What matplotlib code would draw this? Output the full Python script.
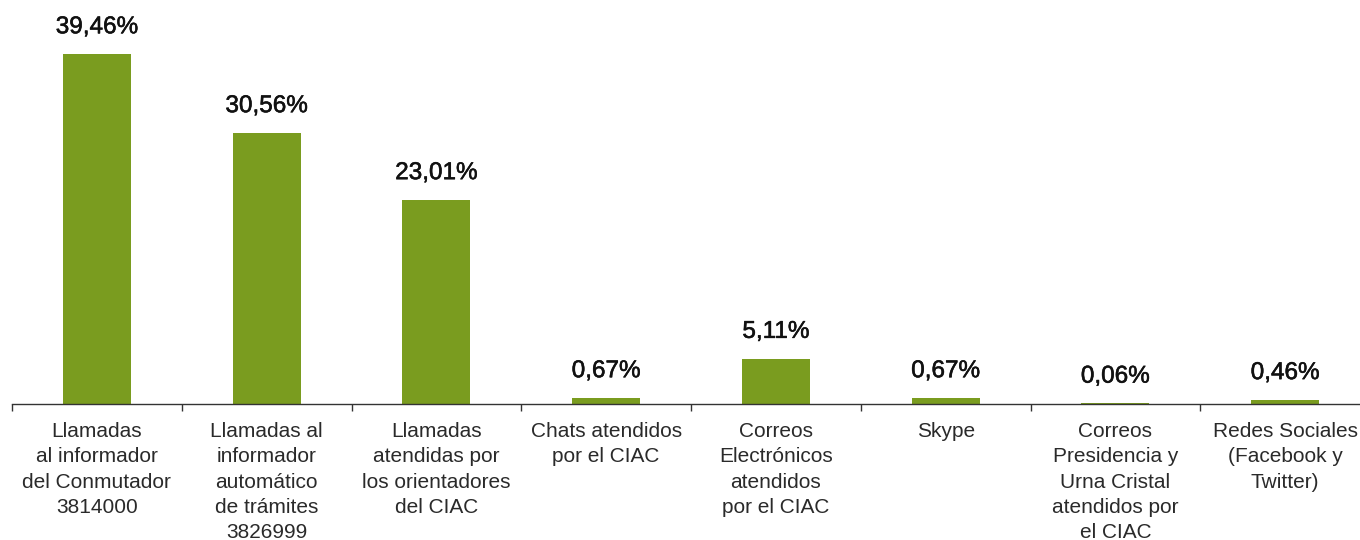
import matplotlib
matplotlib.use("Agg")
import matplotlib.pyplot as plt
import matplotlib.patheffects as pe
import numpy as np

categories = [
    "Llamadas\nal informador\ndel Conmutador\n3814000",
    "Llamadas al\ninformador\nautomático\nde trámites\n3826999",
    "Llamadas\natendidas por\nlos orientadores\ndel CIAC",
    "Chats atendidos\npor el CIAC",
    "Correos\nElectrónicos\natendidos\npor el CIAC",
    "Skype",
    "Correos\nPresidencia y\nUrna Cristal\natendidos por\nel CIAC",
    "Redes Sociales\n(Facebook y\nTwitter)",
]
values = [39.46, 30.56, 23.01, 0.67, 5.11, 0.67, 0.06, 0.46]
value_labels = ["39,46%", "30,56%", "23,01%", "0,67%", "5,11%", "0,67%", "0,06%", "0,46%"]

plt.rcParams['font.family'] = ['Liberation Sans', 'DejaVu Sans']

fig = plt.figure(figsize=(13.6, 5.4), dpi=100)
W, H = 1360, 540
left_px, base_px = 12, 404
step_px = 169.75
ax = fig.add_axes([left_px / W, (H - base_px) / H, step_px * len(categories) / W, 399 / H])

x = np.arange(len(categories))
bars = ax.bar(x, values, width=0.40, color="#7A9C1F", zorder=2)
ax.set_xlim(-0.5, len(categories) - 0.5)
ax.set_ylim(0, 45)

for b, lab in zip(bars, value_labels):
    ax.annotate(lab, (b.get_x() + b.get_width() / 2, b.get_height()),
                xytext=(0, 15), textcoords="offset points",
                ha="center", va="baseline", fontsize=17.5, fontweight="normal",
                color="#111111",
                path_effects=[pe.withStroke(linewidth=0.4, foreground="#111111")])

for s in ["top", "right", "left"]:
    ax.spines[s].set_visible(False)
ax.spines["bottom"].set_color("#333333")
ax.spines["bottom"].set_linewidth(1.0)
ax.set_yticks([])
ax.set_xticks(x)
ax.set_xticklabels(categories, fontsize=15, color="#2a2a2a", linespacing=1.42, va="top")
ax.tick_params(axis="x", which="major", length=0, pad=13)
ax.set_xticks(np.arange(-0.5, len(categories)), minor=True)
ax.tick_params(axis="x", which="minor", length=5, width=1.0, color="#333333", direction="out")

fig.savefig("out.png", dpi=100)
